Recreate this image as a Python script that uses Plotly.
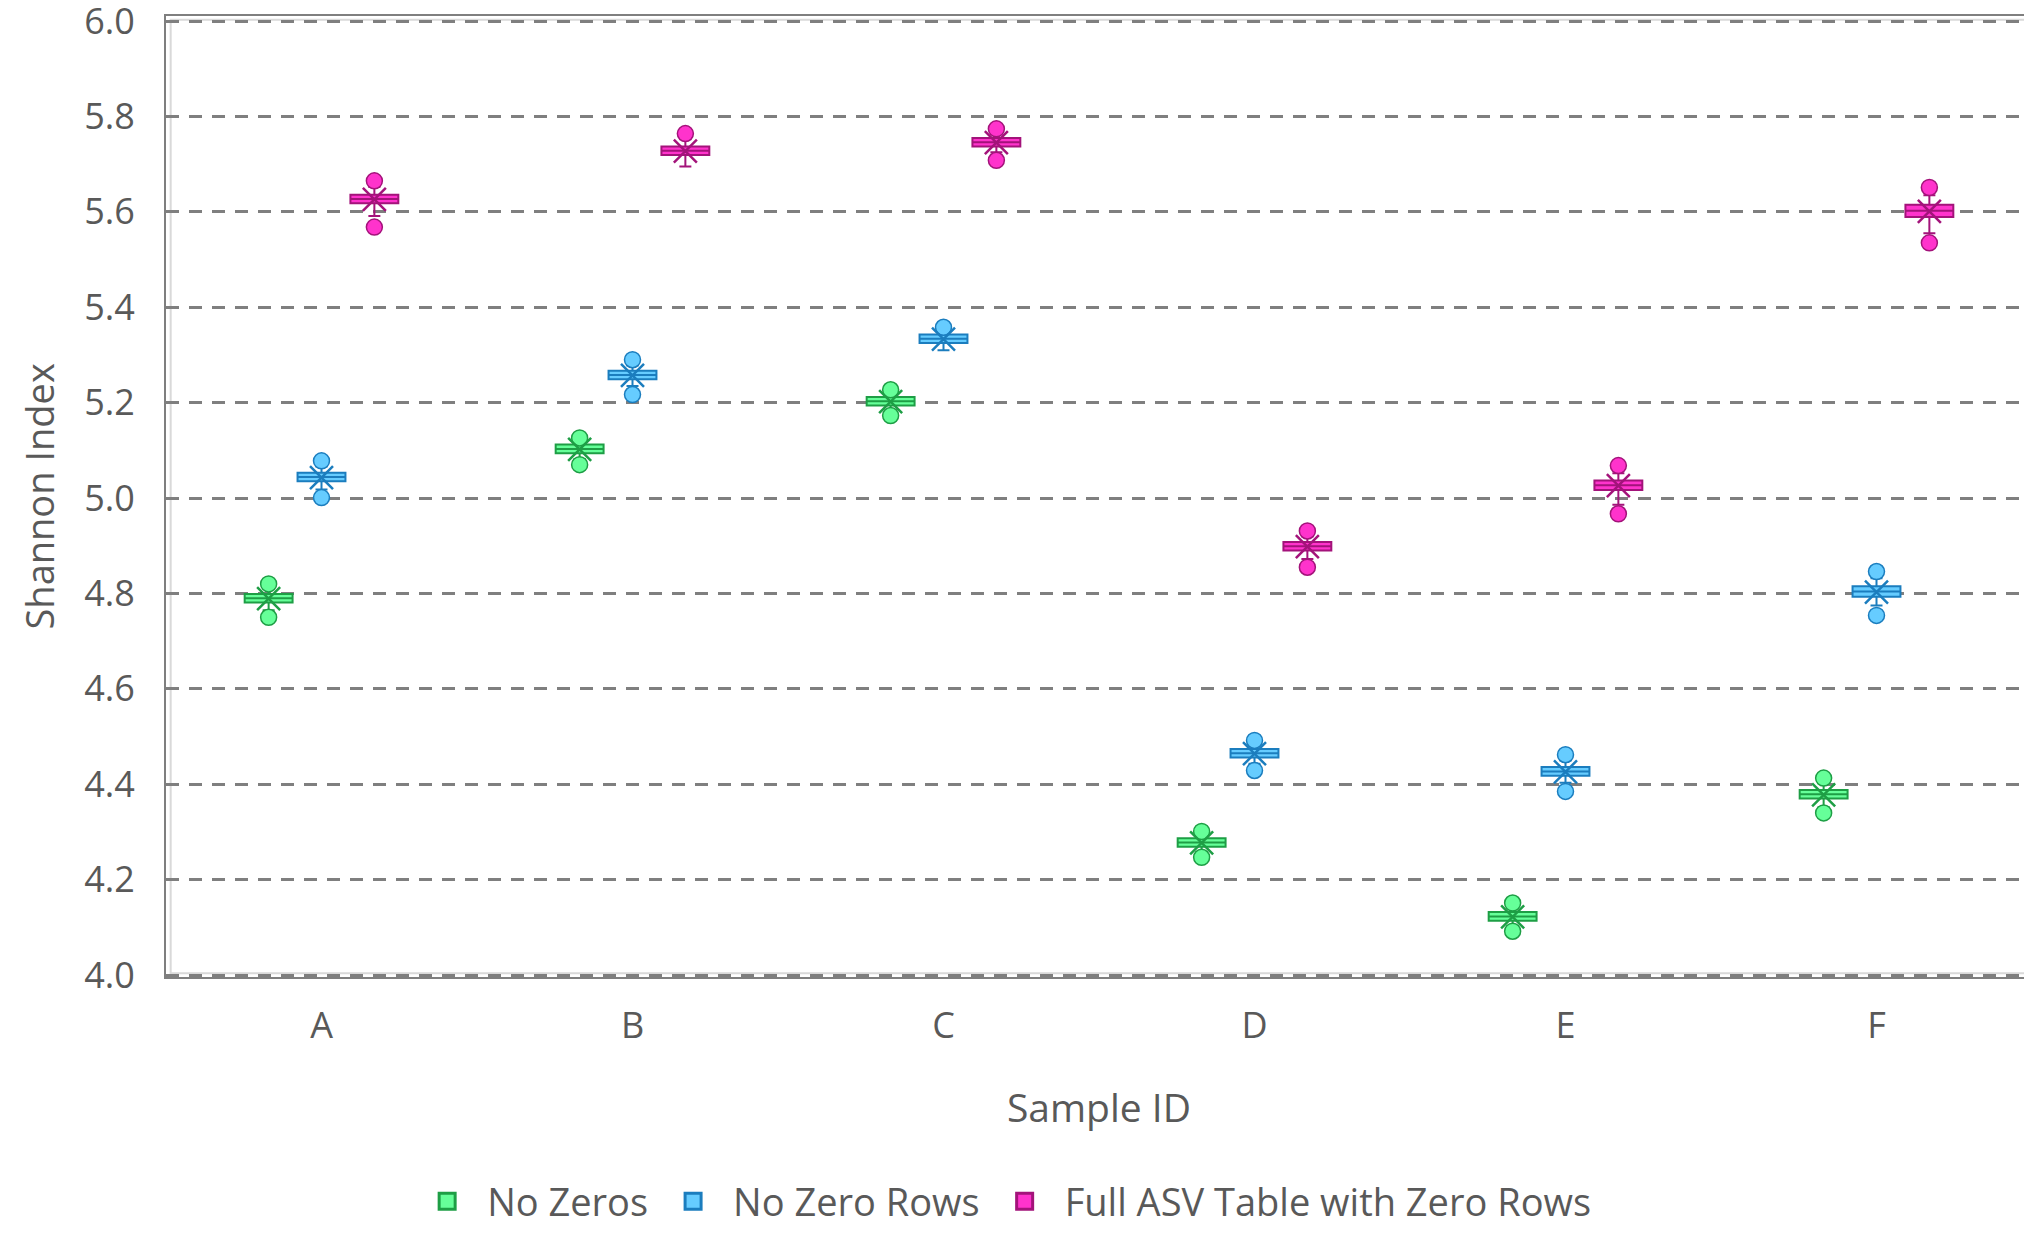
import plotly.graph_objects as go

categories = ["A", "B", "C", "D", "E", "F"]
series_names = ["No Zeros", "No Zero Rows", "Full ASV Table with Zero Rows"]
y_title = "Shannon Index"
x_title = "Sample ID"

# No Zeros
nz_q1 = [4.781, 5.094, 5.194, 4.269, 4.114, 4.370]
nz_median = [4.790, 5.103, 5.203, 4.278, 4.123, 4.379]
nz_q3 = [4.799, 5.112, 5.212, 4.287, 4.132, 4.388]
nz_low = [4.765, 5.082, 5.183, 4.258, 4.103, 4.352]
nz_high = [4.810, 5.118, 5.218, 4.294, 4.142, 4.402]
nz_mean = [4.789, 5.102, 5.202, 4.277, 4.122, 4.378]
nz_out_low = [4.750, 5.070, 5.173, 4.247, 4.092, 4.340]
nz_out_high = [4.820, 5.126, 5.227, 4.301, 4.151, 4.413]

# No Zero Rows
nzr_q1 = [5.035, 5.249, 5.325, 4.456, 4.418, 4.793]
nzr_median = [5.044, 5.258, 5.334, 4.465, 4.427, 4.804]
nzr_q3 = [5.053, 5.267, 5.343, 4.474, 4.436, 4.815]
nzr_low = [5.018, 5.235, 5.310, 4.443, 4.403, 4.775]
nzr_high = [5.066, 5.278, 5.350, 4.484, 4.450, 4.832]
nzr_mean = [5.043, 5.257, 5.333, 4.464, 4.426, 4.803]
nzr_out_low = [5.001, 5.217, None, 4.429, 4.385, 4.754]
nzr_out_high = [5.078, 5.290, 5.358, 4.492, 4.462, 4.846]

# Full ASV Table with Zero Rows
full_q1 = [5.618, 5.719, 5.737, 4.890, 5.017, 5.589]
full_median = [5.627, 5.728, 5.746, 4.899, 5.027, 5.602]
full_q3 = [5.636, 5.737, 5.755, 4.908, 5.037, 5.615]
full_low = [5.591, 5.695, 5.725, 4.872, 4.986, 5.555]
full_high = [5.652, 5.752, 5.765, 4.920, 5.052, 5.635]
full_mean = [5.626, 5.727, 5.745, 4.898, 5.026, 5.601]
full_out_low = [5.568, None, 5.708, 4.855, 4.967, 5.535]
full_out_high = [5.665, 5.764, 5.774, 4.931, 5.068, 5.651]

y_ticks = [4.0, 4.2, 4.4, 4.6, 4.8, 5.0, 5.2, 5.4, 5.6, 5.8, 6.0]

fills = ["#66FF99", "#66CCFF", "#FF33CC"]
lines = ["#1E9E45", "#1B7DBE", "#A3137A"]

stats = [
    (nz_q1, nz_median, nz_q3, nz_low, nz_high, nz_mean, nz_out_low, nz_out_high),
    (nzr_q1, nzr_median, nzr_q3, nzr_low, nzr_high, nzr_mean, nzr_out_low, nzr_out_high),
    (full_q1, full_median, full_q3, full_low, full_high, full_mean, full_out_low, full_out_high),
]

fig = go.Figure()
for i, (q1, med, q3, lo, hi, mean, olo, ohi) in enumerate(stats):
    fig.add_trace(go.Box(
        name=series_names[i], x=categories, q1=q1, median=med, q3=q3,
        lowerfence=lo, upperfence=hi, offsetgroup=str(i), legendgroup=str(i),
        fillcolor=fills[i], line=dict(color=lines[i], width=2),
        whiskerwidth=0.25, boxpoints=False, showlegend=False,
    ))

for i, (q1, med, q3, lo, hi, mean, olo, ohi) in enumerate(stats):
    for arr in (olo, ohi):
        fig.add_trace(go.Scatter(
            x=categories, y=arr, mode="markers", offsetgroup=str(i), legendgroup=str(i),
            marker=dict(symbol="circle", size=16, color=fills[i],
                        line=dict(color=lines[i], width=1.5)),
            showlegend=False, hoverinfo="y",
        ))
    fig.add_trace(go.Scatter(
        x=categories, y=mean, mode="markers", offsetgroup=str(i), legendgroup=str(i),
        marker=dict(symbol="x-thin", size=23, color=lines[i],
                    line=dict(color=lines[i], width=2.5)),
        showlegend=False, hoverinfo="y",
    ))

# legend entries (square swatches like the reference)
for i in range(3):
    fig.add_trace(go.Scatter(
        x=[None], y=[None], mode="markers", name=series_names[i],
        offsetgroup=str(i), legendgroup=str(i),
        marker=dict(symbol="square", size=16, color=fills[i],
                    line=dict(color=lines[i], width=3)),
        showlegend=True,
    ))

font_family = "Open Sans, Noto Sans, DejaVu Sans, sans-serif"
text_color = "#595959"

fig.update_layout(
    width=2032, height=1233,
    paper_bgcolor="white", plot_bgcolor="white",
    margin=dict(l=158, r=8, t=8, b=264),
    boxmode="group", boxgap=0.49, boxgroupgap=0.094,
    scattermode="group", scattergap=0.49,
    font=dict(family=font_family, color=text_color, size=36),
    showlegend=True,
    legend=dict(orientation="h", xref="container", yref="container",
                x=0.489, xanchor="center", y=0.032, yanchor="middle",
                font=dict(size=38, color=text_color),
                itemsizing="trace", traceorder="normal", itemwidth=70),
    xaxis=dict(
        type="category", categoryarray=categories, range=[-0.5, 5.5],
        showgrid=False, zeroline=False, ticks="", automargin=False,
        showline=True, linecolor="#7F7F7F", linewidth=2, mirror=True,
        tickfont=dict(size=36, color=text_color), ticklabelstandoff=16,
        title=dict(text=x_title, font=dict(size=39, color=text_color), standoff=46),
    ),
    yaxis=dict(
        range=[3.996, 6.0105], tickvals=y_ticks, ticktext=[f"{v:.1f}" for v in y_ticks],
        showgrid=True, gridcolor="#7F7F7F", gridwidth=3, griddash="13px,10px",
        zeroline=False, ticks="", automargin=False, ticklabeloverflow="allow",
        showline=True, linecolor="#7F7F7F", linewidth=2, mirror=True,
        tickfont=dict(size=36, color=text_color), ticklabelstandoff=22,
    ),
    annotations=[dict(text=y_title, textangle=-90, xref="paper", yref="paper",
                      x=0, y=0.5, xanchor="center", yanchor="middle", xshift=-128,
                      showarrow=False, font=dict(size=38, color=text_color))],
    shapes=[dict(type="rect", xref="paper", yref="paper", x0=0.0025, x1=0.9975,
                 y0=0.004, y1=0.996, line=dict(color="#D9D9D9", width=2),
                 fillcolor="rgba(0,0,0,0)", layer="below")],
)

fig.write_html("out.html")
